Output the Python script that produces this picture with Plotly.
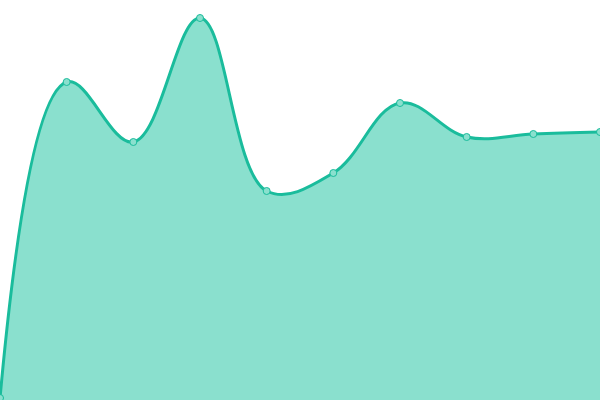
import plotly.graph_objects as go

# data (y axis runs 0..400)
x_vals = [0, 1, 2, 3, 4, 5, 6, 7, 8, 9]
y_vals = [2, 318, 258, 382, 209, 227, 297, 263, 266, 268]

fig = go.Figure()

fig.add_trace(go.Scatter(
    x=x_vals, y=y_vals,
    mode='lines+markers',
    fill='tozeroy',
    fillcolor='#8ae0ce',
    line=dict(color='#1abc9c', width=3, shape='spline', smoothing=1.1),
    marker=dict(size=7, color='#8ae0ce', line=dict(color='#1abc9c', width=1)),
    hoverinfo='x+y',
    showlegend=False
))

fig.update_layout(
    width=600,
    height=400,
    margin=dict(l=0, r=0, t=0, b=0),
    plot_bgcolor='white',
    paper_bgcolor='white',
    xaxis=dict(range=[0, 9], showgrid=False, zeroline=False, showticklabels=False, visible=False),
    yaxis=dict(range=[0, 400], showgrid=False, zeroline=False, showticklabels=False, visible=False),
)

# drop the page's default body margin so the chart sits at the window corner
fig.write_html("out.html", config={"displayModeBar": False},
               post_script="document.body.style.margin='0';")
